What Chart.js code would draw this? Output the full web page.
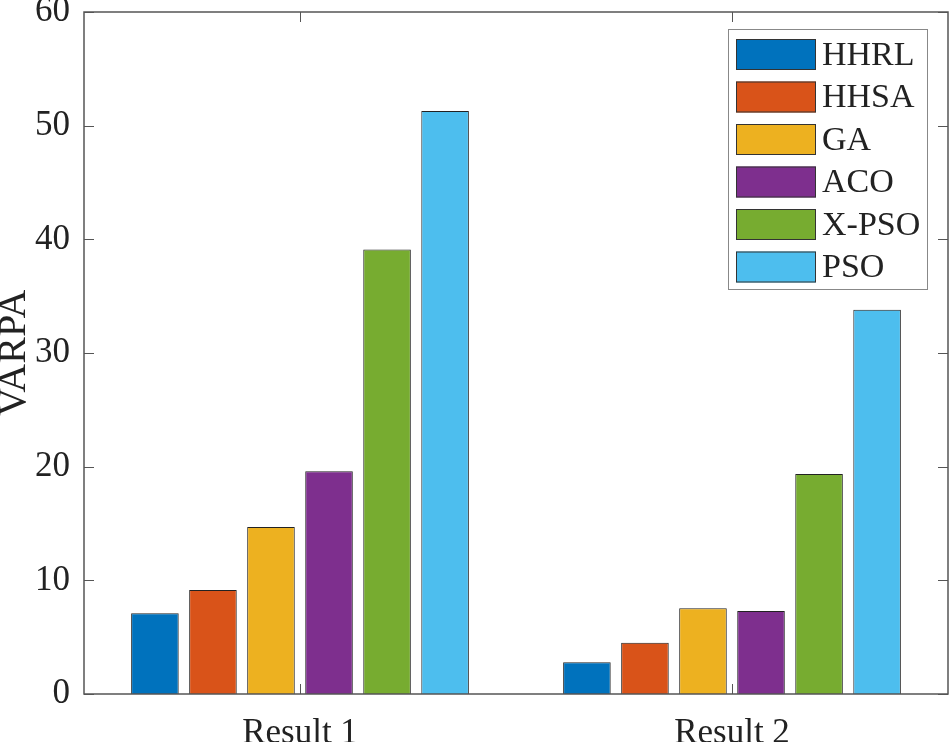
<!DOCTYPE html>
<html>
<head>
<meta charset="utf-8">
<script src="https://cdn.jsdelivr.net/npm/chart.js@4.4.0/dist/chart.umd.min.js"></script>
<style>
  body { margin: 0; background: #fff; }
  #wrap { width: 950px; height: 742px; }
</style>
</head>
<body>
<div id="wrap"><canvas id="myChart"></canvas></div>
<script>
  // data
  const categories = ['Result 1', 'Result 2'];
  const methods = ['HHRL', 'HHSA', 'GA', 'ACO', 'X-PSO', 'PSO'];
  const hhrl = [7.1, 2.8];
  const hhsa = [9.15, 4.5];
  const ga = [14.7, 7.55];
  const aco = [19.6, 7.3];
  const xpso = [39.1, 19.35];
  const pso = [51.3, 33.8];
  const yTicks = [0, 10, 20, 30, 40, 50, 60];

  const seriesValues = [hhrl, hhsa, ga, aco, xpso, pso];
  const colors = ['#0072BD', '#D95319', '#EDB120', '#7E2F8E', '#77AC30', '#4DBEEE'];
  const axisColor = '#555555';
  const fontFamily = '"Liberation Serif", "Times New Roman", serif';

  // box, inner ticks and legend, drawn like matlab
  const matlabAxes = {
    id: 'matlabAxes',
    afterDraw(chart) {
      const c = chart.ctx;
      const a = chart.chartArea;
      const x = chart.scales.x;
      const y = chart.scales.y;
      c.save();
      c.strokeStyle = axisColor;
      c.lineWidth = 1.5;
      c.strokeRect(a.left, a.top, a.right - a.left, a.bottom - a.top);

      c.lineWidth = 1;
      yTicks.forEach(v => {
        const py = Math.round(y.getPixelForValue(v)) + 0.5;
        c.beginPath();
        c.moveTo(a.left, py); c.lineTo(a.left + 10, py);
        c.moveTo(a.right, py); c.lineTo(a.right - 10, py);
        c.stroke();
      });
      categories.forEach((cat, i) => {
        const px = Math.round(x.getPixelForValue(i)) + 0.5;
        c.beginPath();
        c.moveTo(px, a.bottom); c.lineTo(px, a.bottom - 10);
        c.moveTo(px, a.top); c.lineTo(px, a.top + 10);
        c.stroke();
      });

      // legend box
      const lx = 728, ly = a.top + 17, lw = 199, lh = 260;
      c.fillStyle = '#fff';
      c.fillRect(lx, ly, lw, lh);
      c.strokeStyle = '#888';
      c.lineWidth = 1;
      c.strokeRect(lx + 0.5, ly + 0.5, lw, lh);
      c.font = '34px ' + fontFamily;
      c.textBaseline = 'middle';
      chart.data.datasets.forEach((ds, i) => {
        const cy = ly + 25 + i * 42.5;
        c.fillStyle = ds.backgroundColor;
        c.fillRect(lx + 8, cy - 15, 80, 31);
        c.strokeStyle = '#333';
        c.strokeRect(lx + 8.5, cy - 14.5, 79, 30);
        c.fillStyle = '#222';
        c.fillText(ds.label, lx + 94, cy + 2);
      });
      c.restore();
    }
  };

  const ctx = document.getElementById('myChart');
  new Chart(ctx, {
    type: 'bar',
    data: {
      labels: categories,
      datasets: methods.map((m, i) => ({
        label: m,
        data: seriesValues[i],
        backgroundColor: colors[i],
        borderColor: '#222',
        borderWidth: 1,
        barPercentage: 0.82,
        categoryPercentage: 0.806
      }))
    },
    options: {
      responsive: true,
      maintainAspectRatio: false,
      animation: false,
      layout: {
        padding: { top: 12, right: 2, left: 0, bottom: 0 }
      },
      scales: {
        x: {
          grid: { display: false, drawTicks: false },
          border: { display: false },
          ticks: {
            color: '#222',
            padding: 19,
            font: { family: fontFamily, size: 35 }
          },
          afterFit(scale) { scale.height = 48; }
        },
        y: {
          min: 0,
          max: 60,
          grid: { display: false, drawTicks: false },
          border: { display: false },
          ticks: {
            stepSize: 10,
            color: '#222',
            padding: 14,
            font: { family: fontFamily, size: 35 }
          },
          title: {
            display: true,
            text: 'VARPA',
            color: '#222',
            padding: 0,
            font: { family: fontFamily, size: 40, lineHeight: 0.7 }
          },
          afterFit(scale) {
            scale.width = 84;
            scale.paddingTop = 0;
            scale.paddingBottom = 0;
          }
        }
      },
      plugins: {
        legend: { display: false },
        tooltip: { enabled: false }
      }
    },
    plugins: [matlabAxes]
  });
</script>
</body>
</html>
